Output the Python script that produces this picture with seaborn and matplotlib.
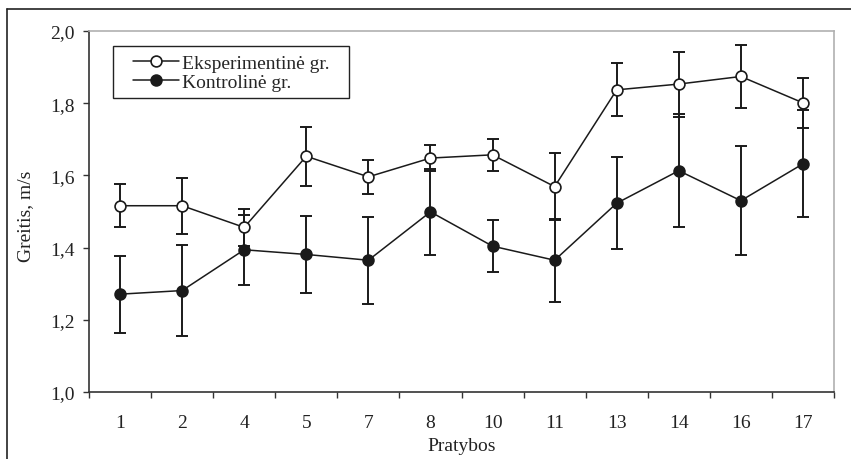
import numpy as np
import pandas as pd
import matplotlib
matplotlib.use("Agg")
import matplotlib.pyplot as plt
from matplotlib.lines import Line2D
from matplotlib.patches import Rectangle
from matplotlib.ticker import FuncFormatter
import seaborn as sns

# ---- data ----
pratybos = ["1", "2", "4", "5", "7", "8", "10", "11", "13", "14", "16", "17"]
eksperimentine = [1.516, 1.516, 1.456, 1.653, 1.596, 1.648, 1.657, 1.569, 1.837, 1.853, 1.874, 1.801]
eksperimentine_err = [0.060, 0.077, 0.051, 0.081, 0.048, 0.036, 0.045, 0.093, 0.073, 0.090, 0.087, 0.069]
kontroline = [1.271, 1.281, 1.394, 1.381, 1.365, 1.499, 1.404, 1.365, 1.523, 1.613, 1.530, 1.632]
kontroline_err = [0.107, 0.127, 0.097, 0.107, 0.120, 0.119, 0.072, 0.115, 0.128, 0.156, 0.151, 0.148]
label_exp = "Eksperimentinė gr."
label_ctl = "Kontrolinė gr."
xlabel = "Pratybos"
ylabel = "Greitis, m/s"

sns.set_theme(style="white")
plt.rcParams["font.family"] = ["Liberation Serif", "DejaVu Serif"]

FS = 14
W, H = 851, 460
fig = plt.figure(figsize=(W / 100, H / 100), dpi=100)
L, R, T, B = 89, 834, 32, 393
ax = fig.add_axes([L / W, 1 - B / H, (R - L) / W, (B - T) / H])

pos = np.arange(len(pratybos))
df_exp = pd.DataFrame({"x": pos, "y": eksperimentine})
df_ctl = pd.DataFrame({"x": pos, "y": kontroline})

# error bars (beneath markers)
ax.errorbar(pos, eksperimentine, yerr=eksperimentine_err, fmt="none", ecolor="#1a1a1a",
            elinewidth=1.4, capsize=4.6, capthick=1.4, zorder=2)
ax.errorbar(pos, kontroline, yerr=kontroline_err, fmt="none", ecolor="#1a1a1a",
            elinewidth=1.4, capsize=4.6, capthick=1.4, zorder=2)

sns.lineplot(data=df_exp, x="x", y="y", ax=ax, color="#1a1a1a", lw=1.1, marker="o",
             markersize=7.8, markerfacecolor="white", markeredgecolor="#1a1a1a",
             markeredgewidth=1.2, label=label_exp, zorder=3)
sns.lineplot(data=df_ctl, x="x", y="y", ax=ax, color="#1a1a1a", lw=1.1, marker="o",
             markersize=7.8, markerfacecolor="#1a1a1a", markeredgecolor="#1a1a1a",
             markeredgewidth=1.2, label=label_ctl, zorder=3)

ax.set_xlim(-0.5, len(pratybos) - 0.5)
ax.set_ylim(1.0, 2.0)

# x ticks: marks at boundaries, labels at centres
ax.set_xticks(np.arange(len(pratybos) + 1) - 0.5)
ax.set_xticklabels([])
ax.set_xticks(pos, minor=True)
ax.set_xticklabels(pratybos, minor=True)
ax.tick_params(axis="x", which="major", direction="out", length=4.3, width=1, color="#333333", bottom=True)
ax.tick_params(axis="x", which="minor", length=0, pad=16, labelsize=FS, labelcolor="#222222")

ax.set_yticks([1.0, 1.2, 1.4, 1.6, 1.8, 2.0])
ax.yaxis.set_major_formatter(FuncFormatter(lambda v, p: f"{v:.1f}".replace(".", ",")))
ax.tick_params(axis="y", direction="out", length=4.3, width=1, color="#333333", left=True,
               pad=6, labelsize=FS, labelcolor="#222222")

for s in ["left", "bottom"]:
    ax.spines[s].set_color("#333333")
    ax.spines[s].set_linewidth(1.2)
for s in ["top", "right"]:
    ax.spines[s].set_color("#b0b0b0")
    ax.spines[s].set_linewidth(1.2)
ax.grid(False)

ax.set_xlabel(xlabel, fontsize=FS, color="#222222")
ax.set_ylabel(ylabel, fontsize=FS, color="#222222")
ax.xaxis.set_label_coords(0.5, -(438 - B) / (B - T))
ax.yaxis.set_label_coords(-(89 - 34) / (R - L), 0.49)

leg = ax.legend(loc="upper left", bbox_to_anchor=(133 / W, 1 - 55 / H),
                bbox_transform=fig.transFigure,
                borderaxespad=0, borderpad=0, frameon=False, fontsize=FS,
                handlelength=2.35, handletextpad=0.15, labelspacing=0.1)
# legend frame
fig.add_artist(Rectangle((113 / W, 1 - 99 / H), (349 - 113) / W, (99 - 47) / H,
                         transform=fig.transFigure, fill=False, edgecolor="#222222",
                         lw=1.0, zorder=5))

# outer frame (partially outside the image)
fig.add_artist(Line2D([7 / W, 1.0], [1 - 10 / H, 1 - 10 / H], transform=fig.transFigure,
                      color="#222222", lw=1.2))
fig.add_artist(Line2D([7 / W, 7 / W], [0.0, 1 - 10 / H], transform=fig.transFigure,
                      color="#222222", lw=1.2))

fig.savefig("out.png", dpi=100)
